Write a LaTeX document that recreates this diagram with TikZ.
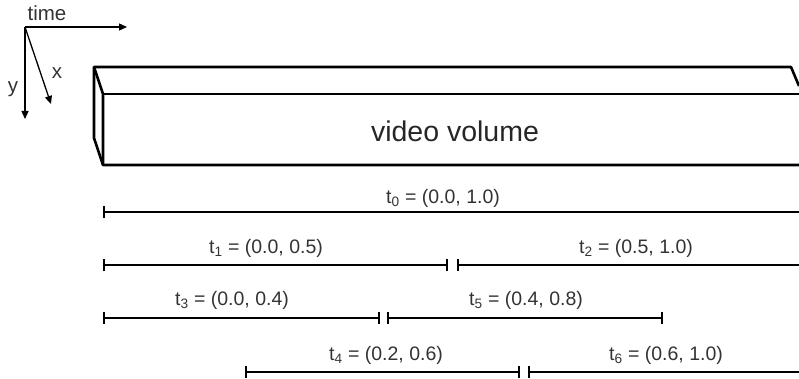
\documentclass[tikz,border=0pt]{standalone}
\usepackage{fontspec}
\setmainfont{Liberation Sans}
\usetikzlibrary{arrows.meta}

\tikzset{
    span/.style={line width=2.6pt, {Bar[width=12pt,line width=2.4pt]}-{Bar[width=12pt,line width=2.4pt]}},
    spanlabel/.style={font=\fontsize{19.5}{20}\selectfont, text=black!80, inner sep=1pt},
    axis/.style={line width=1.3pt, -{Triangle[length=8pt,width=7pt]}}
}

\begin{document}
\begin{tikzpicture}[x=1pt, y=-1pt]
    \useasboundingbox (0,0) rectangle (799,379);

    % Axes
    \coordinate (o) at (25,27);
    \coordinate (tend) at (127,27);
    \coordinate (yend) at (25,119);
    \coordinate (xend) at (51,104);
    \draw[axis] (o) -- (tend);
    \draw[axis] (o) -- (yend);
    \draw[axis] (o) -- (xend);
    \node[spanlabel, font=\fontsize{20.5}{21}\selectfont] (tlab) at (47,13) {time};
    \node[spanlabel, font=\fontsize{20.5}{21}\selectfont] (ylab) at (13,89) {y};
    \node[spanlabel, font=\fontsize{20.5}{21}\selectfont] (xlab) at (57,73) {x};

    % Video volume
    \draw[line width=2.6pt, line join=round]
        (799,86) -- (791,67) -- (94,67) -- (94,138) -- (103,165) -- (803,165);
    \draw[line width=2.6pt] (94,67) -- (103,94) -- (103,165);
    \draw[line width=2.6pt] (103,94) -- (803,94);
    \node[font=\fontsize{28.5}{29}\selectfont, text=black!85] (vol) at (455,131) {video volume};

    % Intervals
    \coordinate (a0) at (103,212); \coordinate (b0) at (805,212);
    \coordinate (a1) at (103,265); \coordinate (b1) at (448,265);
    \coordinate (a2) at (457,265); \coordinate (b2) at (805,265);
    \coordinate (a3) at (103,318); \coordinate (b3) at (380,318);
    \coordinate (a5) at (387,318); \coordinate (b5) at (663,318);
    \coordinate (a4) at (245,372); \coordinate (b4) at (520,372);
    \coordinate (a6) at (528,372); \coordinate (b6) at (805,372);

    \draw[span] (a0) -- (b0);
    \draw[span] (a1) -- (b1);
    \draw[span] (a2) -- (b2);
    \draw[span] (a3) -- (b3);
    \draw[span] (a5) -- (b5);
    \draw[span] (a4) -- (b4);
    \draw[span] (a6) -- (b6);

    \node[spanlabel] (l0) at (443,198) {t\textsubscript{0} = (0.0, 1.0)};
    \node[spanlabel] (l1) at (266,248) {t\textsubscript{1} = (0.0, 0.5)};
    \node[spanlabel] (l2) at (636,248) {t\textsubscript{2} = (0.5, 1.0)};
    \node[spanlabel] (l3) at (232,300) {t\textsubscript{3} = (0.0, 0.4)};
    \node[spanlabel] (l5) at (526,300) {t\textsubscript{5} = (0.4, 0.8)};
    \node[spanlabel] (l4) at (386,355) {t\textsubscript{4} = (0.2, 0.6)};
    \node[spanlabel] (l6) at (666,355) {t\textsubscript{6} = (0.6, 1.0)};
\end{tikzpicture}
\end{document}
